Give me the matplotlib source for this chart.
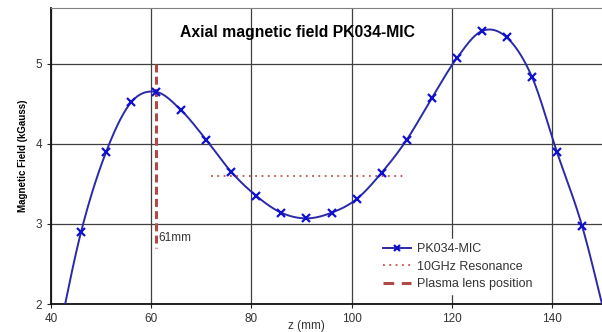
import numpy as np
import matplotlib.pyplot as plt

plt.rcParams["font.family"] = ["Liberation Sans", "DejaVu Sans"]

# Measured axial field (z in mm, B in kGauss)
z = [41, 46, 51, 56, 61, 66, 71, 76, 81, 86, 91, 96, 101, 106, 111,
     116, 121, 126, 131, 136, 141, 146, 151]
b = [1.45, 2.90, 3.90, 4.52, 4.65, 4.42, 4.05, 3.65, 3.35, 3.14, 3.07, 3.14, 3.31, 3.64, 4.05,
     4.57, 5.07, 5.41, 5.33, 4.84, 3.90, 2.98, 1.75]
marked = list(range(1, len(z) - 1))  # end points only shape the curve

resonance_b = 3.6
resonance_z = [72, 111]
lens_z = 61
lens_b = [5.0, 2.7]


def smooth(x, y, n=20):
    # Catmull-Rom curve through the points, like Excel's smoothed line
    x = np.asarray(x, float)
    y = np.asarray(y, float)
    px = np.concatenate([[2 * x[0] - x[1]], x, [2 * x[-1] - x[-2]]])
    py = np.concatenate([[2 * y[0] - y[1]], y, [2 * y[-1] - y[-2]]])
    t = np.linspace(0, 1, n, endpoint=False)
    xs, ys = [], []
    for i in range(1, len(px) - 2):
        for p, out in ((px, xs), (py, ys)):
            p0, p1, p2, p3 = p[i - 1], p[i], p[i + 1], p[i + 2]
            out.extend(0.5 * (2 * p1 + (-p0 + p2) * t
                              + (2 * p0 - 5 * p1 + 4 * p2 - p3) * t ** 2
                              + (-p0 + 3 * p1 - 3 * p2 + p3) * t ** 3))
    xs.append(x[-1])
    ys.append(y[-1])
    return xs, ys


fig = plt.figure(figsize=(6.02, 3.32), dpi=100)
ax = fig.add_axes([0.0847, 0.0843, 0.9153, 0.892])

zs, bs = smooth(z, b)
line_col = "#2a2aa8"
ax.plot(zs, bs, color=line_col, lw=1.4, zorder=3)
ax.plot([z[i] for i in marked], [b[i] for i in marked], ls="none", marker="x",
        ms=5.5, mew=1.6, color="#1010d0", zorder=4)

dash = (0, (2.6, 1.4))
ax.plot(resonance_z, [resonance_b] * 2, ls=(0, (1, 2.5)), color="#c0504d", lw=1.3, zorder=2)
ax.plot([lens_z] * 2, lens_b, ls=dash, color="#b04a46", lw=2.2, zorder=2)
ax.text(lens_z + 0.4, 2.82, "61mm", fontsize=8.5, va="center", ha="left", color="#333333")

ax.set_xlim(40, 150)
ax.set_ylim(2, 5.7)
ax.set_xticks([40, 60, 80, 100, 120, 140])
ax.set_yticks([2, 3, 4, 5])
ax.grid(True, color="#404040", lw=0.9)
ax.set_axisbelow(True)
ax.tick_params(labelsize=8.5, length=3, colors="#222222", labelcolor="#333333")
for side in ["left", "bottom"]:
    ax.spines[side].set_linewidth(1.3)
    ax.spines[side].set_color("#111111")
ax.spines["top"].set_color("#808080")
ax.spines["right"].set_visible(False)

ax.set_xlabel("z (mm)", fontsize=8.5, color="#333333")
ax.xaxis.set_label_coords(0.463, -0.053)
ax.set_ylabel("Magnetic Field (kGauss)", fontsize=7, fontweight="bold", labelpad=5)
ax.text(65.7, 5.39, "Axial magnetic field PK034-MIC", fontsize=11.3, fontweight="bold", va="center")

h1 = plt.Line2D([], [], color=line_col, lw=1.4, marker="x", ms=5, mew=1.6, mec="#1010d0")
h2 = plt.Line2D([], [], ls=(0, (1, 2.5)), color="#c0504d", lw=1.3)
h3 = plt.Line2D([], [], ls=(0, (3.5, 2.5)), color="#b04a46", lw=2.2)
leg = ax.legend([h1, h2, h3], ["PK034-MIC", "10GHz Resonance", "Plasma lens position"],
                loc="lower left", bbox_to_anchor=(0.585, 0.013), frameon=True, fontsize=9,
                handlelength=2.2, labelspacing=0.45, borderpad=0.3, handletextpad=0.5)
leg.get_frame().set_facecolor("white")
leg.get_frame().set_edgecolor("white")
leg.get_frame().set_alpha(1)
for t in leg.get_texts():
    t.set_color("#333333")

fig.savefig("out.png", dpi=100)
